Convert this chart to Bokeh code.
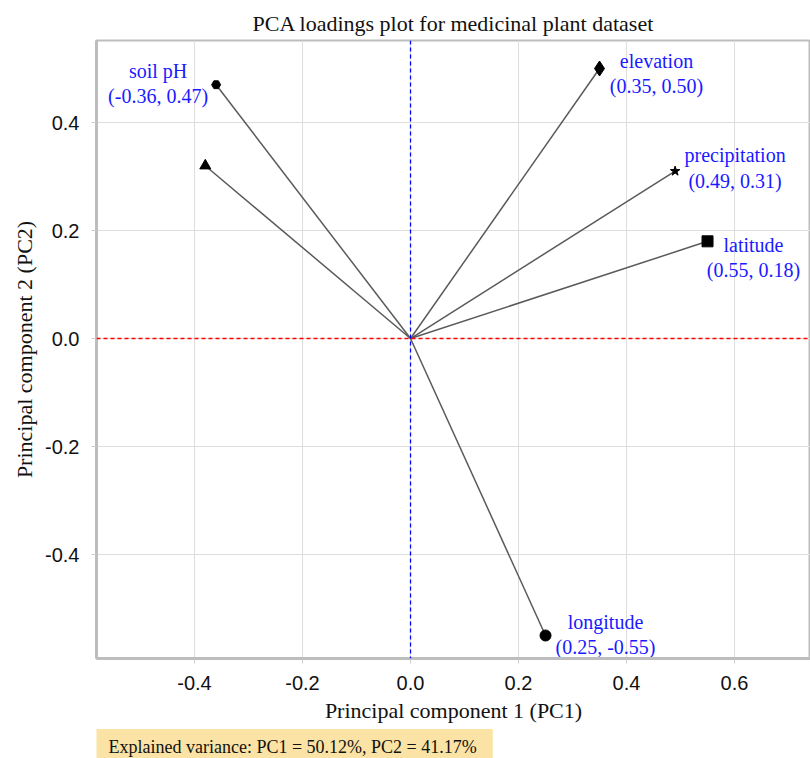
from bokeh.plotting import figure
from bokeh.models import ColumnDataSource, Span, Title, FixedTicker, NumeralTickFormatter, Range1d
from bokeh.core.properties import value
from bokeh.embed import file_html
from bokeh.resources import INLINE

# ---- data ----
variables = ["soil pH", "", "elevation", "precipitation", "latitude", "longitude"]
pc1 = [-0.36, -0.38, 0.35, 0.49, 0.55, 0.25]
pc2 = [0.47, 0.32, 0.50, 0.31, 0.18, -0.55]
markers = ["hex", "triangle", "diamond", "star", "square", "circle"]
x_ticks = [-0.4, -0.2, 0.0, 0.2, 0.4, 0.6]
y_ticks = [-0.4, -0.2, 0.0, 0.2, 0.4]
explained = {"PC1": 50.12, "PC2": 41.17}

# label styling (pixel offsets from the point)
label_dx = [-58, 0, 57, 60, 46, 60]
label_dy = [-1, 0, 5, -3, 16, -1]
marker_size = [9, 11, 15, 10, 11, 11]

SERIF = "Liberation Serif"
SANS = "Liberation Sans"

p = figure(
    frame_width=714, frame_height=618,
    x_range=Range1d(-0.5815, 0.7407), y_range=Range1d(-0.5926, 0.5519),
    output_backend="svg", toolbar_location=None,
    title="PCA loadings plot for medicinal plant dataset",
    x_axis_label="Principal component 1 (PC1)",
    y_axis_label="Principal component 2 (PC2)",
    min_border_left=96, min_border_right=0, min_border_top=40, min_border_bottom=100,
    background_fill_color="white", border_fill_color="white",
)

p.title.align = "center"
p.title.text_font = SERIF
p.title.text_font_size = "22px"
p.title.text_font_style = "normal"
p.title.text_color = "#111111"

p.outline_line_color = "#bdbdbd"
p.outline_line_width = 2

for ax in (p.xaxis, p.yaxis):
    ax.axis_line_color = "#bdbdbd"
    ax.axis_line_width = 3
    ax.major_tick_line_color = "#cccccc"
    ax.major_tick_out = 5
    ax.major_tick_in = 0
    ax.minor_tick_line_color = None
    ax.major_label_text_font = SANS
    ax.major_label_text_font_size = "20px"
    ax.major_label_text_color = "#111111"
    ax.axis_label_text_font = SERIF
    ax.axis_label_text_font_size = "22px"
    ax.axis_label_text_font_style = "normal"
    ax.axis_label_text_color = "#111111"
    ax.formatter = NumeralTickFormatter(format="0.0")

p.xaxis.ticker = FixedTicker(ticks=x_ticks)
p.yaxis.ticker = FixedTicker(ticks=y_ticks)
p.xaxis.major_label_standoff = 12
p.yaxis.major_label_standoff = 12

p.xgrid.grid_line_color = "#dedede"
p.ygrid.grid_line_color = "#dedede"
p.xgrid.ticker = FixedTicker(ticks=x_ticks)
p.ygrid.ticker = FixedTicker(ticks=y_ticks)

# reference lines
p.add_layout(Span(location=0, dimension="width", line_color="#ff0000", line_dash="4 3", line_width=1.3))
p.add_layout(Span(location=0, dimension="height", line_color="#0000ff", line_dash="4 3", line_width=1.3))

# vectors
src = ColumnDataSource(dict(
    x0=[0.0] * len(pc1), y0=[0.0] * len(pc2), x=pc1, y=pc2,
    marker=markers, size=marker_size,
))
p.segment(x0="x0", y0="y0", x1="x", y1="y", source=src, line_color="#5a5a5a", line_width=1.5)
p.scatter(x="x", y="y", marker="marker", size="size", source=src, fill_color="black", line_color="black")

# labels
lab = {"x": [], "y": [], "text": [], "dx": [], "dy": []}
for name, a, b, dx, dy in zip(variables, pc1, pc2, label_dx, label_dy):
    if not name:
        continue
    lab["x"].append(a)
    lab["y"].append(b)
    lab["text"].append(f"{name}\n({a:.2f}, {b:.2f})")
    lab["dx"].append(dx)
    lab["dy"].append(dy)
lsrc = ColumnDataSource(lab)
p.text(x="x", y="y", text="text", x_offset="dx", y_offset="dy", source=lsrc,
       text_font=value(SERIF), text_font_size="20px", text_color="#1a1aff",
       text_align="center", text_baseline="middle", text_line_height=1.15)

# explained variance box
ev = Title(
    text=f"Explained variance: PC1 = {explained['PC1']:.2f}%, PC2 = {explained['PC2']:.2f}%",
    align="left", text_font=SERIF, text_font_size="18px", text_color="#111111",
    text_font_style="normal",
    background_fill_color="#fae3a4", background_fill_alpha=1.0,
    standoff=3,
)
try:
    ev.padding = dict(left=12, right=16, top=8, bottom=10)
except Exception:
    pass
p.add_layout(ev, "below")

open("out.html", "w").write(file_html(p, INLINE))
